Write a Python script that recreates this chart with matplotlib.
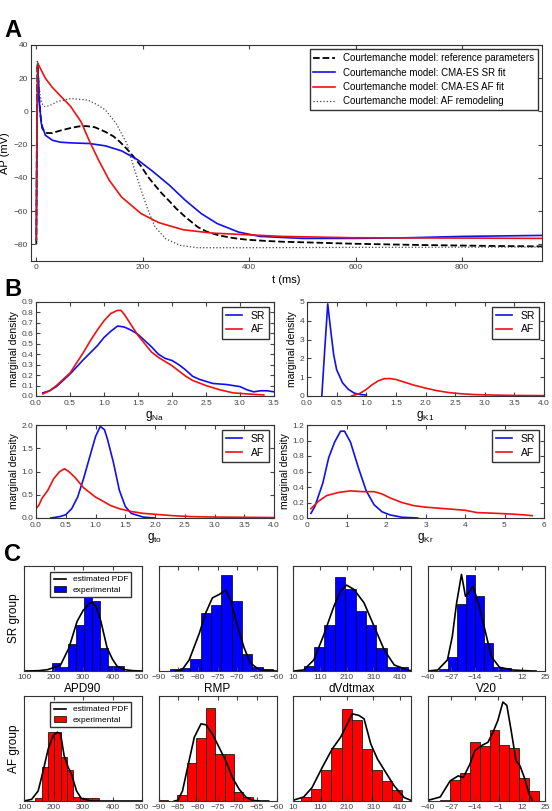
import numpy as np
import matplotlib
matplotlib.use('Agg')
import matplotlib.pyplot as plt

#Panel A: action potential traces (t in ms, AP in mV)
t_ref = [0, 1, 2, 3, 5, 8, 11, 15, 20, 30, 45, 64, 80, 94, 110, 130, 145, 157, 170, 183, 197, 210, 223,
         236, 250, 263, 280, 303, 320, 343, 370, 396, 430, 462, 530, 595, 660, 728, 800, 870, 950]
v_ref = [-80, -20, 28, 25, 10, -3, -10, -12, -13, -13, -11.5, -10, -9, -8.8, -9.5, -12.3, -15, -18.3, -22.5,
         -27.3, -33, -39.4, -44.5, -49.4, -54, -58.5, -63.5, -69.5, -72.3, -74.6, -76.2, -77.2, -77.9, -78.4,
         -79, -79.6, -80, -80.4, -80.7, -81, -81.2]
t_sr = [0, 1, 2.7, 5.3, 9.3, 17, 30, 45, 64, 100, 130, 160, 190, 220, 250, 280, 310, 340, 380, 420, 500,
        600, 700, 800, 950]
v_sr = [-77, -20, 29, 6.8, -7.2, -14.3, -17.3, -18.5, -18.9, -19.3, -20.7, -23.7, -29, -36.4, -44.4, -53.5,
        -61.5, -67.5, -72.6, -75.2, -76.4, -76.4, -76, -75.2, -74.6]
t_af = [0, 1, 2.7, 10.6, 17, 30, 50, 64, 84, 100, 117, 137, 160, 197, 230, 276, 330, 396, 462, 595, 800, 950]
v_af = [-77, -20, 29, 24, 20, 14.5, 7.8, 3.2, -6.2, -18, -29.3, -41.4, -51.5, -61.5, -66.9, -71.2, -73.2,
        -74.2, -75.2, -76, -76.2, -76.4]
t_rem = [0, 1, 2, 4, 7, 10, 15, 25, 40, 65, 97, 115, 130, 150, 170, 183, 197, 210, 223, 243, 270, 303, 400,
         600, 800, 950]
v_rem = [-80, -20, 31, 20, 10, 5, 3, 3.5, 6, 7.8, 6.8, 4, 0.8, -7.2, -19.3, -33.4, -47.4, -59.5, -69.5, -76.6,
         -80.6, -82, -82, -81.8, -81.7, -81.6]

#Panel B: marginal densities
gna_sr_x = [0.1, 0.2, 0.3, 0.5, 0.7, 0.9, 1.0, 1.1, 1.2, 1.3, 1.4, 1.5, 1.6, 1.7, 1.8, 1.9, 2.0, 2.1, 2.2,
            2.3, 2.4, 2.5, 2.6, 2.8, 3.0, 3.1, 3.2, 3.3, 3.4, 3.5]
gna_sr_y = [0.03, 0.05, 0.09, 0.21, 0.35, 0.48, 0.56, 0.62, 0.67, 0.66, 0.63, 0.59, 0.53, 0.47, 0.40, 0.36,
            0.34, 0.30, 0.25, 0.19, 0.16, 0.14, 0.12, 0.11, 0.09, 0.06, 0.04, 0.05, 0.05, 0.04]
gna_af_x = [0.1, 0.2, 0.3, 0.5, 0.7, 0.8, 0.9, 1.0, 1.1, 1.2, 1.25, 1.3, 1.4, 1.5, 1.6, 1.7, 1.8, 1.9, 2.0,
            2.1, 2.2, 2.3, 2.5, 2.7, 2.9, 3.1, 3.35]
gna_af_y = [0.02, 0.05, 0.10, 0.22, 0.42, 0.53, 0.63, 0.72, 0.79, 0.82, 0.82, 0.78, 0.68, 0.58, 0.50, 0.42,
            0.37, 0.33, 0.29, 0.24, 0.19, 0.15, 0.10, 0.06, 0.03, 0.02, 0.01]
gk1_sr_x = [0.25, 0.3, 0.35, 0.4, 0.45, 0.5, 0.6, 0.7, 0.8, 0.9, 1.0]
gk1_sr_y = [0.0, 2.5, 4.9, 3.5, 2.2, 1.4, 0.7, 0.35, 0.15, 0.08, 0.05]
gk1_af_x = [0.75, 0.9, 1.0, 1.1, 1.2, 1.3, 1.4, 1.5, 1.6, 1.8, 2.0, 2.2, 2.4, 2.6, 2.8, 3.0, 3.5, 4.0]
gk1_af_y = [0.0, 0.15, 0.35, 0.6, 0.8, 0.92, 0.93, 0.88, 0.78, 0.58, 0.42, 0.28, 0.18, 0.12, 0.08, 0.06,
            0.03, 0.02]
gto_sr_x = [0.25, 0.4, 0.5, 0.6, 0.7, 0.8, 0.9, 1.0, 1.08, 1.15, 1.2, 1.3, 1.4, 1.5, 1.6, 1.8, 2.0]
gto_sr_y = [0.0, 0.03, 0.07, 0.2, 0.45, 0.85, 1.3, 1.75, 1.97, 1.9, 1.7, 1.2, 0.6, 0.25, 0.1, 0.02, 0.0]
gto_af_x = [0.0, 0.05, 0.1, 0.2, 0.3, 0.4, 0.48, 0.55, 0.65, 0.8, 1.0, 1.1, 1.25, 1.4, 1.6, 1.8, 2.0, 2.3,
            2.6, 3.0, 4.0]
gto_af_y = [0.2, 0.28, 0.42, 0.6, 0.85, 1.0, 1.06, 1.0, 0.88, 0.65, 0.45, 0.38, 0.27, 0.2, 0.14, 0.1, 0.08,
            0.05, 0.03, 0.02, 0.01]
gkr_sr_x = [0.1, 0.2, 0.4, 0.55, 0.7, 0.85, 0.95, 1.1, 1.3, 1.5, 1.7, 1.9, 2.1, 2.4, 2.8]
gkr_sr_y = [0.06, 0.15, 0.45, 0.78, 0.98, 1.12, 1.12, 0.98, 0.65, 0.35, 0.17, 0.08, 0.04, 0.01, 0.0]
gkr_af_x = [0.1, 0.3, 0.5, 0.8, 1.1, 1.4, 1.7, 1.9, 2.1, 2.4, 2.7, 3.0, 3.5, 4.0, 4.3, 4.8, 5.2, 5.5, 5.7]
gkr_af_y = [0.12, 0.22, 0.29, 0.33, 0.35, 0.34, 0.34, 0.31, 0.26, 0.2, 0.16, 0.14, 0.12, 0.1, 0.07, 0.06,
            0.05, 0.04, 0.03]

#Panel C: histograms (bin edges, bar heights) and estimated PDF curves
apd_sr_edges = [194, 221.3, 248.6, 275.9, 303.2, 330.5, 357.8, 385.1, 412.4, 439.7]
apd_sr_h = [23, 13, 80, 138, 221, 210, 68, 15, 14]
apd_sr_kx = [100, 150, 180, 200, 224, 252, 280, 300, 320, 331, 345, 360, 382, 400, 415, 440, 470, 500]
apd_sr_ky = [0, 1, 4, 10, 18, 68, 148, 180, 200, 205, 190, 150, 68, 35, 15, 4, 1, 0]
apd_af_edges = [138, 159.5, 181, 202.5, 224, 245.5, 267, 288.5, 310, 331.5, 353]
apd_af_h = [8, 100, 205, 205, 130, 93, 12, 8, 10, 8]
apd_af_kx = [100, 126, 148, 165, 182, 199, 213, 224, 236, 250, 261, 278, 294, 328, 400, 500]
apd_af_ky = [0, 5, 30, 90, 155, 195, 205, 200, 135, 100, 80, 30, 8, 0, 0, 0]

rmp_sr_edges = [-87.2, -84.57, -81.94, -79.31, -76.68, -74.05, -71.42, -68.79, -66.16, -63.53, -60.9]
rmp_sr_h = [6, 8, 36, 173, 196, 286, 208, 50, 13, 6]
rmp_sr_kx = [-86, -84.1, -82.2, -79.6, -78, -76.3, -74.6, -72.9, -71.6, -69.9, -68.2, -66.6, -64.5, -62.4, -60]
rmp_sr_ky = [0, 2, 33, 113, 173, 218, 228, 241, 208, 133, 68, 23, 5, 1, 0]
rmp_af_edges = [-90, -87.6, -85.2, -82.8, -80.4, -78.0, -75.6, -73.2, -70.8, -68.4, -66.0]
rmp_af_h = [3, 0, 18, 112, 188, 278, 140, 140, 28, 12]
rmp_af_kx = [-86, -85.1, -83.9, -82.6, -80.9, -79.2, -77.9, -76.3, -74.6, -72.9, -71.2, -69.5, -67.8, -66.2,
             -64, -62]
rmp_af_ky = [0, 2, 30, 100, 190, 230, 227, 200, 160, 120, 70, 35, 12, 2, 0, 0]

dvdt_sr_edges = [50, 88.7, 127.4, 166.1, 204.8, 243.5, 282.2, 320.9, 359.6, 398.3, 437]
dvdt_sr_h = [15, 71, 136, 280, 243, 178, 136, 68, 13, 11]
dvdt_sr_kx = [10, 50, 87.5, 125, 162.5, 187.5, 210, 237.5, 275, 312.5, 350, 387.5, 437.5, 450]
dvdt_sr_ky = [0, 3, 33, 108, 193, 238, 256, 243, 203, 133, 63, 18, 3, 1]
dvdt_af_edges = [41, 78.5, 116, 153.5, 191, 228.5, 266, 303.5, 341, 378.5, 416]
dvdt_af_h = [12, 35, 92, 158, 275, 242, 155, 92, 60, 32]
dvdt_af_kx = [10, 50, 81, 119, 156, 187.5, 212.5, 231, 256, 275, 300, 325, 356, 387.5, 425, 450]
dvdt_af_ky = [2, 12, 40, 100, 155, 190, 230, 260, 255, 245, 170, 125, 85, 45, 10, 2]

v20_sr_edges = [-34, -29, -24, -19, -14, -9, -4, 1, 6]
v20_sr_h = [6, 43, 200, 286, 223, 84, 12, 8]
v20_sr_kx = [-40, -34.6, -29.2, -26.5, -24.1, -21.4, -19.2, -17.4, -15.1, -12, -8.4, -4.8, -0.3, 7, 18, 20]
v20_sr_ky = [0, 3, 33, 103, 203, 288, 223, 233, 253, 203, 123, 43, 11, 3, 0, 0]
v20_af_edges = [-33.2, -27.7, -22.2, -16.7, -11.2, -5.8, -0.3, 5.2, 10.7, 16.2, 21.7]
v20_af_h = [2, 62, 82, 177, 165, 212, 168, 158, 70, 30]
v20_af_kx = [-40, -33.2, -27.7, -23.2, -20.4, -16.7, -14, -10.3, -6.7, -3.9, -1.2, 1.6, 3.8, 6.2, 8.9, 11.1,
             13.5, 16.2, 18]
v20_af_ky = [2, 12, 60, 75, 70, 110, 150, 165, 175, 205, 240, 295, 285, 210, 120, 105, 70, 20, 2]

feature_names = ['APD90', 'RMP', 'dVdtmax', 'V20']
feature_ticks = [[100, 200, 300, 400, 500], [-90, -85, -80, -75, -70, -65, -60],
                 [10, 110, 210, 310, 410], [-40, -27, -14, -1, 12, 25]]
feature_lims = [(100, 500), (-90, -60), (10, 450), (-40, 25)]

plt.rcParams['font.family'] = ['Liberation Sans', 'DejaVu Sans']
plt.rcParams['mathtext.fontset'] = 'custom'
plt.rcParams['mathtext.rm'] = 'Liberation Sans'
plt.rcParams['axes.edgecolor'] = '#333333'
plt.rcParams['axes.linewidth'] = 0.8
plt.rcParams['xtick.direction'] = 'in'
plt.rcParams['ytick.direction'] = 'in'
plt.rcParams['xtick.top'] = True
plt.rcParams['ytick.right'] = True
plt.rcParams['xtick.color'] = '#444444'
plt.rcParams['ytick.color'] = '#444444'
plt.rcParams['xtick.labelsize'] = 6
plt.rcParams['ytick.labelsize'] = 6
plt.rcParams['xtick.major.size'] = 3
plt.rcParams['ytick.major.size'] = 3
plt.rcParams['xtick.major.pad'] = 2
plt.rcParams['ytick.major.pad'] = 2

W, H = 552.0, 811.0
fig = plt.figure(figsize=(W / 100, H / 100), dpi=100)


def box(left, top, right, bottom):
    # pixel box -> figure fraction
    return [left / W, 1 - bottom / H, (right - left) / W, (bottom - top) / H]


#Panel A
axA = fig.add_axes(box(31, 45, 542, 261))
axA.plot(t_ref, v_ref, 'k--', lw=1.3, label='Courtemanche model: reference parameters')
axA.plot(t_sr, v_sr, color='#1010ee', lw=1.2, label='Courtemanche model: CMA-ES SR fit')
axA.plot(t_af, v_af, color='#ee1111', lw=1.2, label='Courtemanche model: CMA-ES AF fit')
axA.plot(t_rem, v_rem, ':', color='#444444', lw=0.9, label='Courtemanche model: AF remodeling')
axA.set_xlim(-10, 950)
axA.set_ylim(-90, 40)
axA.set_xticks([0, 200, 400, 600, 800])
axA.set_yticks([-80, -60, -40, -20, 0, 20, 40])
axA.set_xlabel('t (ms)', fontsize=8, labelpad=3)
axA.set_ylabel('AP (mV)', fontsize=8, labelpad=3)
axA.legend(loc='upper right', fontsize=7, fancybox=False, edgecolor='#333333', framealpha=1,
           borderaxespad=0.45, labelspacing=0.45, handlelength=2.2)

#Panel B
b_axes = [box(36, 302, 274, 396), box(307, 302, 544, 396), box(36, 425, 274, 518), box(307, 425, 544, 518)]
b_data = [(gna_sr_x, gna_sr_y, gna_af_x, gna_af_y, r'$\mathrm{g_{Na}}$', (0, 3.5), (0, 0.9),
           np.arange(0, 3.51, 0.5), np.arange(0, 0.91, 0.1), '%.1f', '%.1f'),
          (gk1_sr_x, gk1_sr_y, gk1_af_x, gk1_af_y, r'$\mathrm{g_{K1}}$', (0, 4), (0, 5),
           np.arange(0, 4.01, 0.5), np.arange(0, 5.1, 1), '%.1f', '%d'),
          (gto_sr_x, gto_sr_y, gto_af_x, gto_af_y, r'$\mathrm{g_{to}}$', (0, 4), (0, 2),
           np.arange(0, 4.01, 0.5), np.arange(0, 2.01, 0.5), '%.1f', '%.1f'),
          (gkr_sr_x, gkr_sr_y, gkr_af_x, gkr_af_y, r'$\mathrm{g_{Kr}}$', (0, 6), (0, 1.2),
           np.arange(0, 6.1, 1), np.arange(0, 1.21, 0.2), '%d', '%.1f')]
for pos, d in zip(b_axes, b_data):
    ax = fig.add_axes(pos)
    ax.plot(d[0], d[1], color='#1010ee', lw=1.2, label='SR')
    ax.plot(d[2], d[3], color='#ee1111', lw=1.2, label='AF')
    ax.set_xlim(d[5])
    ax.set_ylim(d[6])
    ax.set_xticks(d[7])
    ax.set_yticks(d[8])
    ax.set_xticklabels([d[9] % v for v in d[7]])
    ax.set_yticklabels([d[10] % v for v in d[8]])
    ax.tick_params(axis='x', pad=3)
    ax.set_xlabel(d[4], fontsize=8.5, labelpad=1)
    ax.set_ylabel('marginal density', fontsize=7.5, labelpad=2)
    ax.legend(loc='upper right', fontsize=7.5, fancybox=False, edgecolor='#333333', framealpha=1,
              borderaxespad=0.45, handlelength=1.6, labelspacing=0.35)

#Panel C
c_cols = [(24, 142), (158.5, 276.5), (293, 411), (428, 545)]
c_rows = [(566, 671), (696, 801)]
sr_hist = [(apd_sr_edges, apd_sr_h, apd_sr_kx, apd_sr_ky), (rmp_sr_edges, rmp_sr_h, rmp_sr_kx, rmp_sr_ky),
           (dvdt_sr_edges, dvdt_sr_h, dvdt_sr_kx, dvdt_sr_ky), (v20_sr_edges, v20_sr_h, v20_sr_kx, v20_sr_ky)]
af_hist = [(apd_af_edges, apd_af_h, apd_af_kx, apd_af_ky), (rmp_af_edges, rmp_af_h, rmp_af_kx, rmp_af_ky),
           (dvdt_af_edges, dvdt_af_h, dvdt_af_kx, dvdt_af_ky), (v20_af_edges, v20_af_h, v20_af_kx, v20_af_ky)]
for r, (groups, col, gname) in enumerate([(sr_hist, '#0000ff', 'SR group'), (af_hist, '#ff0000', 'AF group')]):
    for c in range(4):
        ax = fig.add_axes(box(c_cols[c][0], c_rows[r][0], c_cols[c][1], c_rows[r][1]))
        edges, h, kx, ky = groups[c]
        ax.bar(edges[:-1], h, width=np.diff(edges), align='edge', color=col, edgecolor='black',
               linewidth=0.5, label='experimental')
        ax.plot(kx, ky, 'k-', lw=1.2, label='estimated PDF')
        ax.set_xlim(feature_lims[c])
        ax.set_ylim(0, 313)
        ax.set_xticks(feature_ticks[c])
        ax.set_yticks([])
        if r == 1:
            ax.set_title(feature_names[c], fontsize=8.5, pad=3)
        if c == 0:
            ax.set_ylabel(gname, fontsize=8.5, labelpad=3)
            ax.legend(loc='upper right', bbox_to_anchor=(0.91, 0.94), borderaxespad=0,
                      fontsize=6, fancybox=False, edgecolor='#333333', framealpha=1, handlelength=1.5,
                      labelspacing=0.3)

#Panel letters
fig.text(0.008, 1 - 37 / H, 'A', fontsize=17, fontweight='bold')
fig.text(0.008, 1 - 296 / H, 'B', fontsize=17, fontweight='bold')
fig.text(0.008, 1 - 561 / H, 'C', fontsize=17, fontweight='bold')

plt.savefig('out.png', dpi=100)
